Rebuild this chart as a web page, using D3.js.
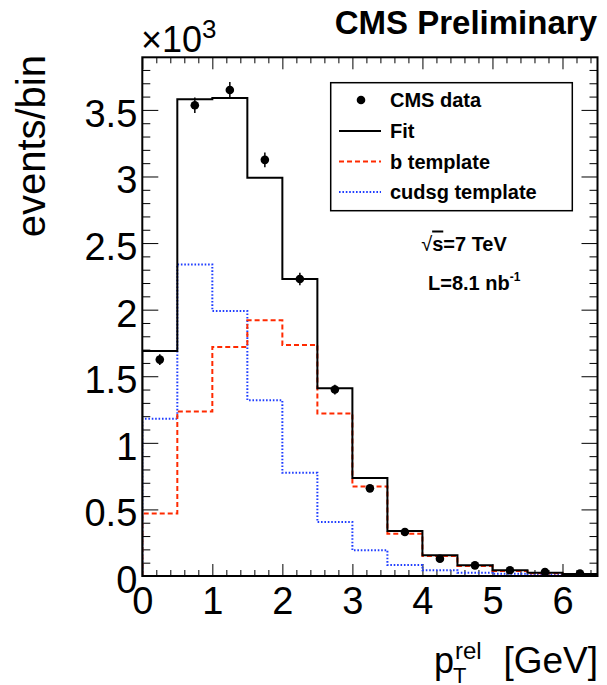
<!DOCTYPE html>
<html>
<head>
<meta charset="utf-8">
<script src="https://cdn.jsdelivr.net/npm/d3@7"></script>
<style>
  html, body { margin: 0; padding: 0; background: #fff; }
  svg { display: block; }
  text { font-family: "Liberation Sans", Arial, Helvetica, sans-serif; fill: #000; }
</style>
</head>
<body>
<svg id="chart" width="607" height="685"></svg>
<script>
// ---------------- data (values in units of 10^3 events) ----------------
const binLow      = [0.0, 0.5, 1.0, 1.5, 2.0, 2.5, 3.0, 3.5, 4.0, 4.5, 5.0, 5.5, 6.0];
const binWidth    = 0.5;
const dataValues  = [1.625, 3.535, 3.650, 3.125, 2.230, 1.400, 0.658, 0.330, 0.130, 0.080, 0.043, 0.030, 0.018];
const dataErrors  = [0.040, 0.059, 0.060, 0.056, 0.047, 0.037, 0.026, 0.018, 0.011, 0.009, 0.007, 0.005, 0.004];
const fitValues   = [1.690, 3.580, 3.590, 2.990, 2.230, 1.410, 0.735, 0.338, 0.155, 0.080, 0.043, 0.025, 0.015];
const bTemplate   = [0.470, 1.235, 1.720, 1.920, 1.735, 1.220, 0.673, 0.318, 0.150, 0.075, 0.038, 0.020, 0.013];
const cudsgTemplate = [1.180, 2.340, 1.990, 1.320, 0.775, 0.405, 0.193, 0.083, 0.043, 0.025, 0.016, 0.010, 0.006];

const xMajorTicks = [0, 1, 2, 3, 4, 5, 6];
const xTickLabels = ["0", "1", "2", "3", "4", "5", "6"];
const xMinorTicks = [0.2,0.4,0.6,0.8,1.2,1.4,1.6,1.8,2.2,2.4,2.6,2.8,3.2,3.4,3.6,3.8,4.2,4.4,4.6,4.8,5.2,5.4,5.6,5.8,6.2,6.4];
const yMajorTicks = [0, 0.5, 1, 1.5, 2, 2.5, 3, 3.5];
const yTickLabels = ["0", "0.5", "1", "1.5", "2", "2.5", "3", "3.5"];
const yMinorTicks = [0.1,0.2,0.3,0.4,0.6,0.7,0.8,0.9,1.1,1.2,1.3,1.4,1.6,1.7,1.8,1.9,2.1,2.2,2.3,2.4,2.6,2.7,2.8,2.9,3.1,3.2,3.3,3.4,3.6,3.7,3.8];

const legendLabels = ["CMS data", "Fit", "b template", "cudsg template"];

// ---------------- layout ----------------
const svg = d3.select("#chart");
const L = 142.3, R = 597.5, T = 57.3, B = 576;
const x = d3.scaleLinear().domain([0, 6.5]).range([L, R]);
const y = d3.scaleLinear().domain([0, 3.895]).range([B, T]);

svg.append("defs").append("clipPath").attr("id", "clip")
  .append("rect").attr("x", L).attr("y", T).attr("width", R - L).attr("height", B - T);

// ---------------- axes (ticks inside, ROOT style) ----------------
function styleAxis(g) {
  g.select(".domain").remove();
  g.selectAll(".tick line").attr("stroke", "#000").attr("stroke-width", 1);
}
// bottom
svg.append("g").attr("transform", `translate(0,${B})`)
  .call(d3.axisBottom(x).tickValues(xMinorTicks).tickSize(-6).tickFormat(""))
  .call(styleAxis);
const xb = svg.append("g").attr("transform", `translate(0,${B})`)
  .call(d3.axisBottom(x).tickValues(xMajorTicks).tickSize(-12).tickFormat((d, i) => xTickLabels[i]))
  .call(styleAxis);
xb.selectAll(".tick text").attr("y", 37.5).attr("dy", null)
  .style("font-size", "38px").style("font-family", "Liberation Sans, Arial, sans-serif");
// top
svg.append("g").attr("transform", `translate(0,${T})`)
  .call(d3.axisTop(x).tickValues(xMinorTicks).tickSize(-6).tickFormat("")).call(styleAxis);
svg.append("g").attr("transform", `translate(0,${T})`)
  .call(d3.axisTop(x).tickValues(xMajorTicks).tickSize(-12).tickFormat("")).call(styleAxis);
// left
svg.append("g").attr("transform", `translate(${L},0)`)
  .call(d3.axisLeft(y).tickValues(yMinorTicks).tickSize(-8).tickFormat("")).call(styleAxis);
const yl = svg.append("g").attr("transform", `translate(${L},0)`)
  .call(d3.axisLeft(y).tickValues(yMajorTicks).tickSize(-16).tickPadding(5).tickFormat((d, i) => yTickLabels[i]))
  .call(styleAxis);
yl.selectAll(".tick text").attr("dy", "0.43em")
  .style("font-size", "38px").style("font-family", "Liberation Sans, Arial, sans-serif");
// right
svg.append("g").attr("transform", `translate(${R},0)`)
  .call(d3.axisRight(y).tickValues(yMinorTicks).tickSize(-8).tickFormat("")).call(styleAxis);
svg.append("g").attr("transform", `translate(${R},0)`)
  .call(d3.axisRight(y).tickValues(yMajorTicks).tickSize(-16).tickFormat("")).call(styleAxis);

// ---------------- histograms ----------------
function stepPath(vals) {
  const pts = [[x(binLow[0]), y(0)]];
  vals.forEach((v, i) => {
    pts.push([x(binLow[i]), y(v)]);
    pts.push([x(binLow[i] + binWidth), y(v)]);
  });
  pts.push([x(binLow[vals.length - 1] + binWidth), y(0)]);
  return d3.line()(pts);
}
const plot = svg.append("g").attr("clip-path", "url(#clip)");

plot.append("path").attr("d", stepPath(cudsgTemplate))
  .attr("fill", "none").attr("stroke", "#1f3dff").attr("stroke-width", 2)
  .attr("stroke-dasharray", "1.6,1.8");
plot.append("path").attr("d", stepPath(bTemplate))
  .attr("fill", "none").attr("stroke", "#ff2a00").attr("stroke-width", 2)
  .attr("stroke-dasharray", "5,3");
plot.append("path").attr("d", stepPath(fitValues))
  .attr("fill", "none").attr("stroke", "#000").attr("stroke-width", 2);

// data points
const pts = plot.append("g");
dataValues.forEach((v, i) => {
  const cx = x(binLow[i] + binWidth / 2);
  pts.append("line").attr("x1", cx).attr("x2", cx)
    .attr("y1", y(v - dataErrors[i])).attr("y2", y(v + dataErrors[i]))
    .attr("stroke", "#000").attr("stroke-width", 1.5);
  pts.append("circle").attr("cx", cx).attr("cy", y(v)).attr("r", 4.3).attr("fill", "#000");
});

// frame
svg.append("rect").attr("x", L).attr("y", T).attr("width", R - L).attr("height", B - T)
  .attr("fill", "none").attr("stroke", "#000").attr("stroke-width", 2);

// ---------------- legend ----------------
const lg = svg.append("g");
lg.append("rect").attr("x", 330.7).attr("y", 82.7).attr("width", 241.6).attr("height", 128)
  .attr("fill", "#fff").attr("stroke", "#000").attr("stroke-width", 1.5);
const rowY = [100, 131, 161.5, 192];
lg.append("circle").attr("cx", 361).attr("cy", rowY[0]).attr("r", 4.3).attr("fill", "#000");
lg.append("line").attr("x1", 339).attr("x2", 381).attr("y1", rowY[1]).attr("y2", rowY[1])
  .attr("stroke", "#000").attr("stroke-width", 2);
lg.append("line").attr("x1", 339).attr("x2", 381).attr("y1", rowY[2]).attr("y2", rowY[2])
  .attr("stroke", "#ff2a00").attr("stroke-width", 2).attr("stroke-dasharray", "5,3");
lg.append("line").attr("x1", 339).attr("x2", 381).attr("y1", rowY[3]).attr("y2", rowY[3])
  .attr("stroke", "#1f3dff").attr("stroke-width", 2).attr("stroke-dasharray", "1.6,1.8");
legendLabels.forEach((t, i) => {
  lg.append("text").attr("x", 390).attr("y", rowY[i] + 7)
    .style("font-size", "20px").style("font-weight", "bold").text(t);
});

// ---------------- annotations ----------------
const s1 = svg.append("text").attr("x", 464).attr("y", 250.5).attr("text-anchor", "middle")
  .style("font-size", "20px").style("font-weight", "bold");
s1.append("tspan").style("font-weight", "normal").text("\u221A");
s1.append("tspan").style("text-decoration", "overline").text("s");
s1.append("tspan").text("=7 TeV");

const l1 = svg.append("text").attr("x", 428).attr("y", 290)
  .style("font-size", "20px").style("font-weight", "bold");
l1.append("tspan").text("L=8.1 nb");
l1.append("tspan").attr("dy", -9).style("font-size", "12px").text("-1");

svg.append("text").attr("x", 597).attr("y", 34).attr("text-anchor", "end")
  .style("font-size", "33px").style("font-weight", "bold").text("CMS Preliminary");

const e3 = svg.append("text").attr("x", 141).attr("y", 51.5).style("font-size", "36px");
e3.append("tspan").text("\u00D710");
e3.append("tspan").attr("dy", -14).style("font-size", "26px").text("3");

// y title
svg.append("text").attr("transform", "translate(45,55) rotate(-90)")
  .attr("text-anchor", "end").style("font-size", "40px").text("events/bin");

// x title: p_T^rel [GeV]
svg.append("text").attr("x", 434).attr("y", 673).style("font-size", "36px").text("p");
svg.append("text").attr("x", 453).attr("y", 683).style("font-size", "22px").text("T");
svg.append("text").attr("x", 455).attr("y", 659).style("font-size", "24px").text("rel");
svg.append("text").attr("x", 598).attr("y", 673).attr("text-anchor", "end")
  .style("font-size", "37px").text("[GeV]");
</script>
</body>
</html>
